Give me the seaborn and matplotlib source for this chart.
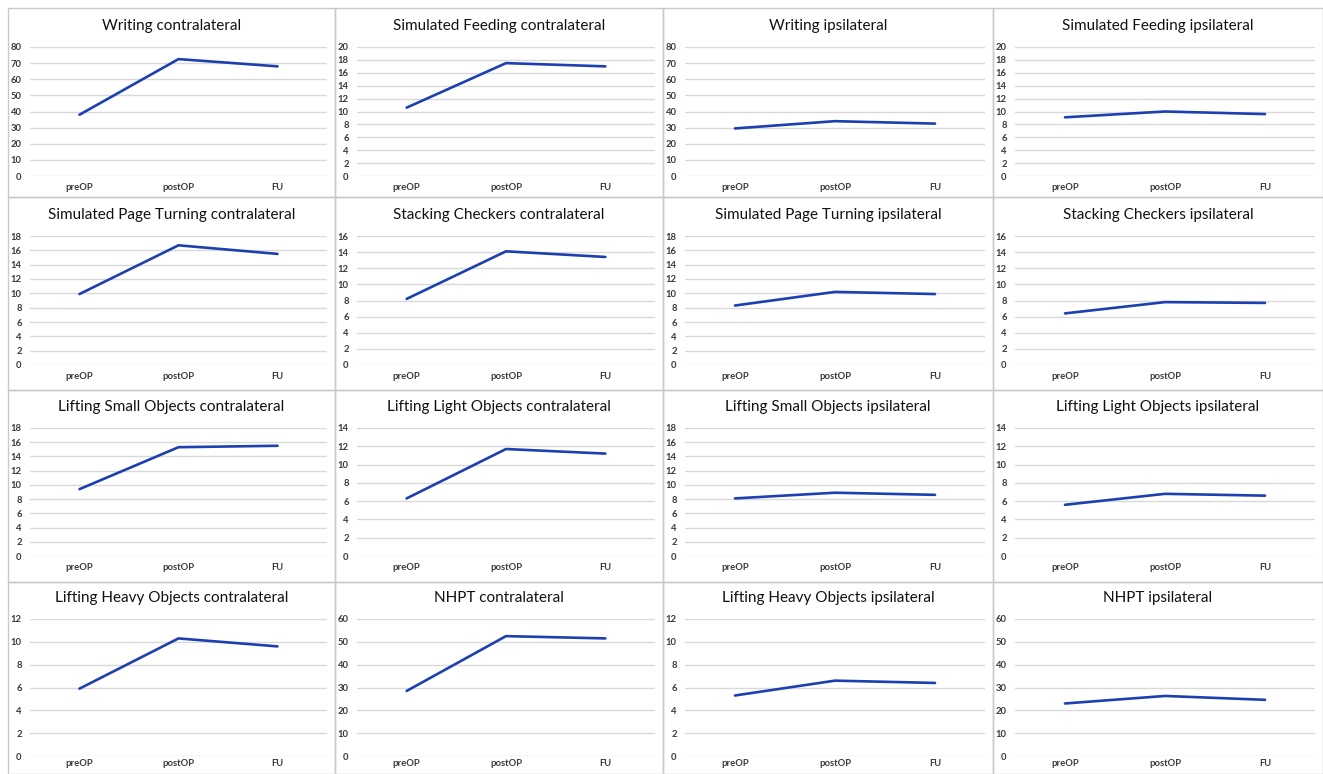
import matplotlib
matplotlib.use("Agg")
import matplotlib.pyplot as plt
import seaborn as sns
import pandas as pd
import numpy as np
from matplotlib.patches import Rectangle

# Zeitpunkte
phases = ["preOP", "postOP", "FU"]

titles = ["Writing contralateral", "Simulated Feeding contralateral",
          "Writing ipsilateral", "Simulated Feeding ipsilateral",
          "Simulated Page Turning contralateral", "Stacking Checkers contralateral",
          "Simulated Page Turning ipsilateral", "Stacking Checkers ipsilateral",
          "Lifting Small Objects contralateral", "Lifting Light Objects contralateral",
          "Lifting Small Objects ipsilateral", "Lifting Light Objects ipsilateral",
          "Lifting Heavy Objects contralateral", "NHPT contralateral",
          "Lifting Heavy Objects ipsilateral", "NHPT ipsilateral"]

values = [[38.0, 72.5, 68.0], [10.6, 17.5, 17.0],
          [29.5, 34.0, 32.5], [9.1, 10.0, 9.6],
          [9.9, 16.7, 15.5], [8.2, 14.1, 13.4],
          [8.3, 10.2, 9.9], [6.4, 7.8, 7.7],
          [9.4, 15.3, 15.5], [6.3, 11.7, 11.2],
          [8.1, 8.9, 8.6], [5.6, 6.8, 6.6],
          [5.9, 10.3, 9.6], [28.5, 52.5, 51.5],
          [5.3, 6.6, 6.4], [23.0, 26.3, 24.6]]

y_max = [80, 20, 80, 20, 18, 16, 18, 16, 18, 14, 18, 14, 12, 60, 12, 60]
y_step = [10, 2, 10, 2, 2, 2, 2, 2, 2, 2, 2, 2, 2, 10, 2, 10]

W, H = 1323, 774
sns.set_style("white")
plt.rcParams['font.family'] = ['Lato', 'DejaVu Sans']

fig = plt.figure(figsize=(W / 100, H / 100), dpi=100)

# Panelgrenzen in Pixel
x_bounds = [8, 335, 663, 993, 1323]
y_bounds = [8, 197, 390, 582, 774]
plot_top = [47, 236, 428, 619]
plot_bottom = [176, 365, 556, 756]
x_pad = [5, 5, 5, 2.5]

for i, title in enumerate(titles):
    r, c = i // 4, i % 4
    x0, x1 = x_bounds[c], x_bounds[c + 1]
    y0, y1 = y_bounds[r], y_bounds[r + 1]
    fig.patches.append(Rectangle((x0 / W, 1 - y1 / H), (x1 - x0) / W, (y1 - y0) / H,
                                 transform=fig.transFigure, fill=False,
                                 edgecolor='#c9c9c9', lw=1))

    left, right = x0 + 22, x1 - 8
    ax = fig.add_axes([left / W, 1 - plot_bottom[r] / H,
                       (right - left) / W, (plot_bottom[r] - plot_top[r]) / H])
    df = pd.DataFrame({'phase': phases, 'value': values[i]})
    sns.lineplot(data=df, x='phase', y='value', ax=ax, color='#1c40b0', lw=1.9,
                 sort=False)
    ax.set_xlim(-0.5, 2.5)
    ax.set_ylim(0, y_max[i])
    ax.set_yticks(np.arange(0, y_max[i] + 1, y_step[i]))
    ax.grid(axis='y', color='#d9d9d9', lw=1)
    ax.set_axisbelow(True)
    ax.set_xlabel('')
    ax.set_ylabel('')
    for s in ax.spines.values():
        s.set_visible(False)
    ax.tick_params(axis='both', length=0, labelsize=6.8, colors='#3a3a3a')
    ax.tick_params(axis='x', pad=x_pad[r])
    ax.tick_params(axis='y', pad=6)
    for lab in ax.get_xticklabels() + ax.get_yticklabels():
        lab.set_fontweight('bold')
    ax.patch.set_alpha(0)

    fig.text((x0 + x1) / 2 / W, 1 - (plot_top[r] - 21) / H, title,
             ha='center', va='center', fontsize=11, color='#111111')

fig.savefig('out.png', dpi=100, facecolor='white')
